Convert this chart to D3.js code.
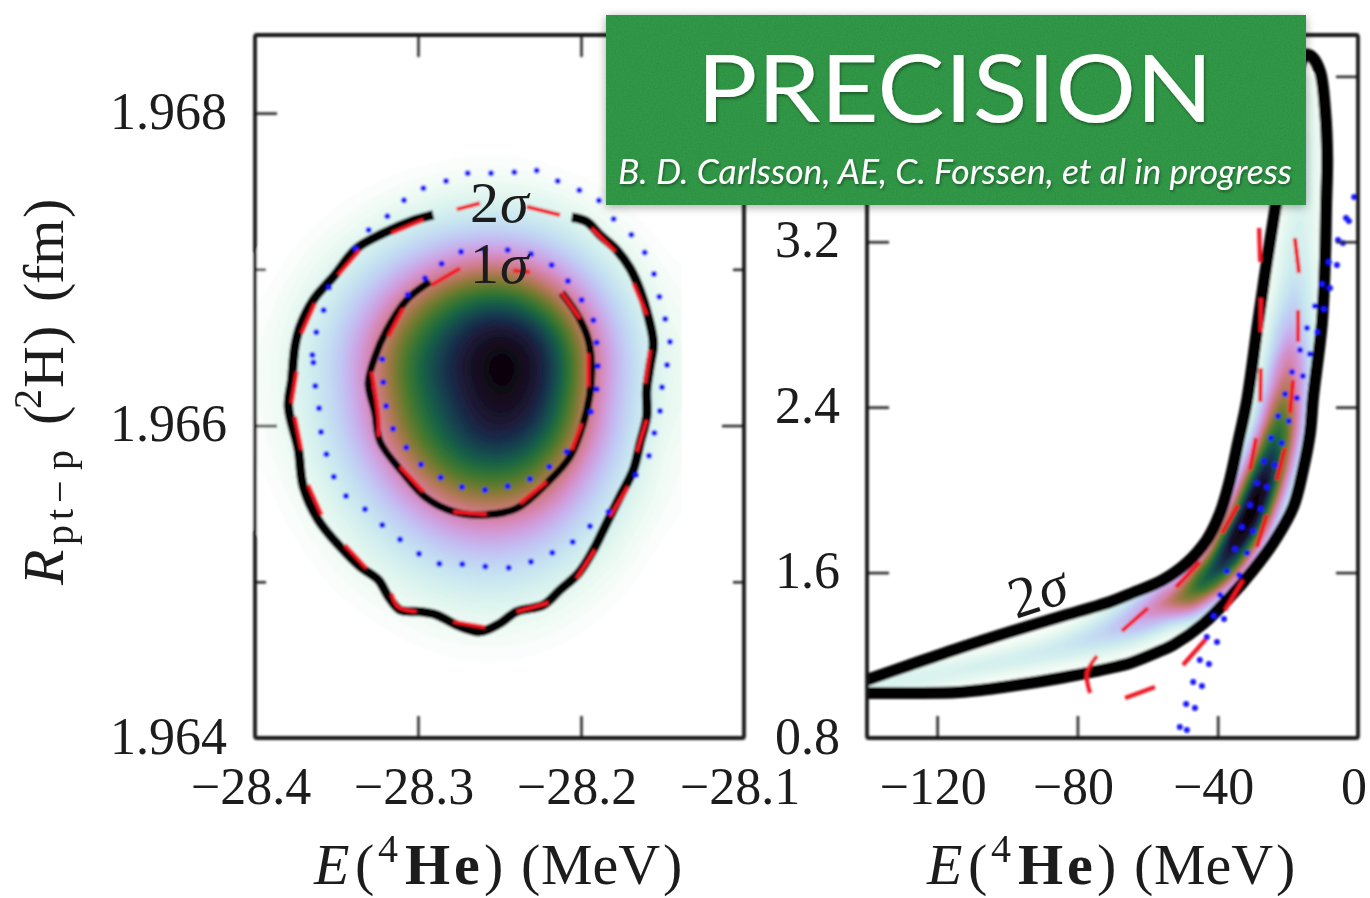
<!DOCTYPE html>
<html>
<head>
<meta charset="utf-8">
<script src="https://cdn.jsdelivr.net/npm/d3@7"></script>
<style>
  html, body { margin: 0; background: #fff; }
  svg { display: block; }
  text { font-family: "Liberation Serif", serif; fill: #1c1c1c; }
</style>
</head>
<body>
<svg id="chart" width="1370" height="898"></svg>
<script>
// ---- left panel, E (MeV) vs R (fm) ----
const leftXTicks = [-28.4, -28.3, -28.2, -28.1];
const leftYTicks = [1.964, 1.966, 1.968];
const leftYMinor = [1.965, 1.967];

// density grid, columns heatE, rows heatR (top row first)
const heatE = [-28.40, -28.38, -28.36, -28.34, -28.32, -28.30, -28.28, -28.26, -28.24, -28.22, -28.20, -28.18, -28.16, -28.14];
const heatR = [1.9678, 1.9676, 1.9674, 1.9672, 1.9670, 1.9668, 1.9666, 1.9664, 1.9662, 1.9660, 1.9658, 1.9656, 1.9654, 1.9652, 1.9650, 1.9648, 1.9646, 1.9644];
const heatD = [
  [0, 0, 0, 0, 0, 0, 0, .001, .001, 0, 0, 0, 0, 0],
  [0, 0, 0, 0, .004, .009, .017, .023, .021, .01, .005, 0, 0, 0],
  [0, 0, .002, .009, .033, .06, .08, .091, .087, .068, .037, .008, .001, 0],
  [0, .002, .012, .051, .092, .139, .186, .21, .202, .158, .095, .048, .008, 0],
  [0, .008, .049, .103, .181, .281, .397, .458, .438, .326, .194, .098, .035, .004],
  [.003, .026, .083, .168, .305, .511, .65, .75, .72, .558, .334, .159, .067, .009],
  [.006, .044, .112, .227, .441, .66, .8, .96, .97, .82, .482, .216, .091, .018],
  [.007, .053, .128, .26, .515, .74, .88, 1, 1, .92, .545, .25, .104, .025],
  [.006, .05, .12, .24, .47, .7, .82, .97, .98, .86, .5, .23, .096, .02],
  [.006, .044, .112, .227, .441, .66, .78, .93, .92, .8, .47, .216, .091, .018],
  [.004, .03, .09, .175, .338, .545, .7, .8, .78, .62, .366, .172, .072, 0],
  [.002, .015, .066, .133, .23, .4, .532, .585, .567, .46, .248, .127, .053, .006],
  [0, .007, .038, .091, .158, .233, .338, .39, .37, .274, .17, .086, .028, .003],
  [0, .002, .014, .055, .098, .148, .2, .222, .213, .168, .105, .052, .006, 0],
  [0, 0, .005, .019, .052, .083, .109, .122, .117, .092, .056, .017, .003, 0],
  [0, 0, 0, .005, .014, .037, .054, .062, .059, .044, .017, .004, 0, 0],
  [0, 0, 0, 0, .003, .008, .015, .02, .018, .01, .004, 0, 0, 0],
  [0, 0, 0, 0, 0, 0, .002, .003, .002, 0, 0, 0, 0, 0]
];

const contour2s = [[-28.2057,1.967333],[-28.1965,1.967305],[-28.1883,1.96722],[-28.1781,1.967124],[-28.1699,1.967007],[-28.1638,1.966868],[-28.1587,1.966697],[-28.1556,1.966526],[-28.1577,1.966377],[-28.1597,1.966228],[-28.1597,1.966057],[-28.1638,1.965886],[-28.1679,1.965716],[-28.1761,1.965545],[-28.1843,1.965374],[-28.1924,1.965204],[-28.2016,1.965054],[-28.2129,1.964948],[-28.2231,1.964851],[-28.2395,1.964809],[-28.2497,1.964734],[-28.262,1.964681],[-28.2763,1.964723],[-28.2886,1.964788],[-28.2988,1.964809],[-28.311,1.964819],[-28.3182,1.964905],[-28.3243,1.965011],[-28.3356,1.965097],[-28.3479,1.965225],[-28.3612,1.965396],[-28.3704,1.965609],[-28.3734,1.965844],[-28.3795,1.966121],[-28.3775,1.966292],[-28.3755,1.966505],[-28.3724,1.966633],[-28.3642,1.966804],[-28.3519,1.966953],[-28.3376,1.967135],[-28.3213,1.967231],[-28.3049,1.967305],[-28.2906,1.967348]];
const contour1s = [[-28.2119,1.966851],[-28.2016,1.966697],[-28.1955,1.966548],[-28.1935,1.966377],[-28.1945,1.966206],[-28.1986,1.966014],[-28.2067,1.965801],[-28.2211,1.96563],[-28.2395,1.96547],[-28.2599,1.965428],[-28.2783,1.965449],[-28.2947,1.965534],[-28.309,1.965694],[-28.3233,1.965897],[-28.3264,1.966078],[-28.3305,1.96627],[-28.3264,1.966441],[-28.3192,1.966612],[-28.307,1.966804],[-28.2926,1.966921]];

const leftDashes = [
  [[-28.3162,1.967231],[-28.2967,1.967316]],
  [[-28.3489,1.966964],[-28.3356,1.967124]],
  [[-28.3714,1.96659],[-28.3632,1.966782]],
  [[-28.3775,1.966142],[-28.3744,1.966345]],
  [[-28.3755,1.966057],[-28.3714,1.965844]],
  [[-28.3673,1.96562],[-28.3591,1.965428]],
  [[-28.3448,1.965236],[-28.3315,1.965086]],
  [[-28.3162,1.964926],[-28.3121,1.964841],[-28.3008,1.964809]],
  [[-28.2783,1.964745],[-28.2589,1.964709]],
  [[-28.2395,1.964809],[-28.22,1.964866]],
  [[-28.2027,1.965022],[-28.1914,1.965204]],
  [[-28.1822,1.965417],[-28.171,1.965609]],
  [[-28.1658,1.965833],[-28.1597,1.966036]],
  [[-28.1607,1.96627],[-28.1577,1.966484]],
  [[-28.1597,1.966708],[-28.1679,1.966911]],
  [[-28.1791,1.967113],[-28.1935,1.967263]],
  [[-28.2129,1.967348],[-28.2333,1.967401]],
  [[-28.262,1.967423],[-28.2763,1.967384]],
  [[-28.2916,1.9669],[-28.2742,1.967007]],
  [[-28.2415,1.966992],[-28.2313,1.966983]],
  [[-28.2119,1.966851],[-28.2006,1.966686]],
  [[-28.1955,1.966462],[-28.1955,1.966249]],
  [[-28.1996,1.966014],[-28.2057,1.965844]],
  [[-28.2211,1.965641],[-28.2374,1.965502]],
  [[-28.2579,1.965432],[-28.2783,1.965449]],
  [[-28.2967,1.965577],[-28.311,1.965737]],
  [[-28.3243,1.965929],[-28.3243,1.966057],[-28.3284,1.966345]],
  [[-28.3182,1.966569],[-28.309,1.96675]]
];

const leftDots = [[-28.2272,1.967632],[-28.2409,1.967621],[-28.2552,1.967615],[-28.2695,1.967615],[-28.2828,1.967566],[-28.2967,1.967519],[-28.3086,1.967442],[-28.3188,1.967339],[-28.3303,1.967252],[-28.3385,1.967135],[-28.3546,1.966883],[-28.3579,1.966738],[-28.3624,1.966597],[-28.3648,1.966452],[-28.3642,1.966403],[-28.363,1.966253],[-28.3607,1.96611],[-28.3595,1.965959],[-28.3562,1.965816],[-28.3517,1.965673],[-28.3442,1.965549],[-28.3325,1.965464],[-28.3219,1.965364],[-28.311,1.96527],[-28.2994,1.96518],[-28.2869,1.965116],[-28.2728,1.965112],[-28.2587,1.965097],[-28.2444,1.96509],[-28.2307,1.965129],[-28.2176,1.965186],[-28.2051,1.965255],[-28.1945,1.965355],[-28.1832,1.965449],[-28.1663,1.965684],[-28.1583,1.965807],[-28.155,1.965952],[-28.1515,1.966093],[-28.1503,1.966245],[-28.1472,1.966388],[-28.1454,1.966537],[-28.1483,1.966682],[-28.1519,1.966825],[-28.1552,1.96697],[-28.1609,1.967107],[-28.1691,1.967222],[-28.18,1.967322],[-28.189,1.96744],[-28.201,1.967506],[-28.2143,1.967566],
  [-28.2736,1.967113],[-28.2593,1.967126],[-28.245,1.967124],[-28.2307,1.967098],[-28.218,1.967028],[-28.208,1.966925],[-28.1996,1.966804],[-28.1924,1.966674],[-28.1904,1.966531],[-28.1896,1.966381],[-28.1904,1.966232],[-28.1939,1.966089],[-28.2088,1.965833],[-28.2194,1.965737],[-28.2313,1.965658],[-28.245,1.965611],[-28.2589,1.965588],[-28.273,1.965607],[-28.2861,1.965667],[-28.2982,1.96575],[-28.3072,1.965859],[-28.3153,1.96598],[-28.3196,1.966125],[-28.3213,1.966277],[-28.3219,1.966424],[-28.3063,1.966838],[-28.2957,1.966943],[-28.2855,1.967036]];

// ---- right panel ----
const rightXTicks = [-120, -80, -40, 0];
const rightYTicks = [0.8, 1.6, 2.4, 3.2, 4.0];

const band2s = [[-140,1.0805],[-127.7,1.1531],[-113.5,1.2353],[-99.2,1.3127],[-85,1.3852],[-70.7,1.4578],[-65,1.4965],[-55.6,1.5642],[-48.8,1.6464],[-43.1,1.7577],[-39.3,1.8883],[-36.5,2.0479],[-34.2,2.2269],[-31.6,2.4348],[-28.5,2.8073],[-26,3.0975],[-23.4,3.378],[-20,3.7408],[-17.1,4.031],[-15.1,4.1035],[-13.1,4.0939],[-10.8,4.0213],[-9.4,3.8375],[-8.8,3.6053],[-9.1,3.378],[-9.4,3.1265],[-10.3,2.8073],[-12.8,2.4493],[-13.7,2.2752],[-15.7,2.0963],[-18.5,1.9173],[-24.2,1.7432],[-29.9,1.6126],[-36.5,1.482],[-44.2,1.3514],[-52.8,1.2498],[-56.5,1.2208],[-65,1.1628],[-70.7,1.1386],[-85,1.0902],[-99.2,1.0515],[-113.5,1.0225],[-127.7,1.0177],[-140,1.0177]];

const rightDashes = [
  [[-28.2,3.2668],[-27.9,3.1023]],
  [[-27.7,2.9282],[-27.7,2.7637]],
  [[-27.7,2.5896],[-27.9,2.4252]],
  [[-29.1,2.251],[-30.8,2.0963]],
  [[-34.2,1.927],[-38.8,1.7915]],
  [[-45.1,1.6513],[-51.9,1.5304]],
  [[-59.9,1.4288],[-67.3,1.3175]],
  [[-74.4,1.1966],[-77.3,1.1144],[-76.4,1.0177]],
  [[-66.4,0.9935],[-57.9,1.0467]],
  [[-49.9,1.1531],[-43.1,1.2837]],
  [[-37.9,1.4191],[-32.8,1.5642]],
  [[-28.8,1.7238],[-26,1.8786]],
  [[-23.1,2.0479],[-20.8,2.2027]],
  [[-19.4,2.372],[-18.5,2.5316]],
  [[-17.1,2.7154],[-17.1,2.8701]],
  [[-16.8,3.0491],[-18,3.2184]]
];

const rightDots = [[-50.8,.8532],[-48.8,.8387],[-49,.9645],[-46.5,.9451],[-47,1.0709],[-44.5,1.0515],[-45.1,1.1773],[-42.5,1.1579],[-43.1,1.2885],[-40.2,1.2643],[-41.1,1.3901],[-38.2,1.3756],[-39.3,1.4913],[-37.4,1.6077],[-33.9,1.5884],[-35.1,1.7142],[-31.6,1.6948],[-33.1,1.8206],[-29.9,1.8012],[-30.8,1.927],[-27.7,1.9076],[-28.8,2.0334],[-26,2.014],[-26.8,2.1398],[-23.7,2.1204],[-24.8,2.251],[-21.7,2.2269],[-22.8,2.3575],[-19.7,2.3333],[-20.8,2.4639],[-17.4,2.4445],[-18.8,2.5703],[-15.7,2.5509],[-16.5,2.6767],[-13.7,2.6573],[-14.5,2.7831],[-11.7,2.7637],[-12.3,2.8895],[-9.7,2.875],[-10.3,2.9959],[-8,2.9766],[-8.3,3.1023],[-6,3.0878],[-5.7,3.2087],[-4.3,3.1942],[-3.4,3.3151],[-2.6,3.3006],[-1.1,3.4167]];

// ridge of the density inside the band: position, peak density, width in px
const ridgeE = [-139.7, -116.3, -99.2, -85, -73.6, -65, -56.5, -49.3, -45.1, -39.3, -35.1, -30.8, -27.4, -24.5, -22.2, -20.8, -19.4, -18.8, -17.7, -17.1, -16, -14.8, -13.7];
const ridgeR = [1.0467, 1.1192, 1.1773, 1.2353, 1.2982, 1.3611, 1.4385, 1.4868, 1.54, 1.6368, 1.7432, 1.8786, 2.0237, 2.1688, 2.3139, 2.459, 2.6525, 2.8218, 3.0152, 3.2087, 3.4022, 3.6924, 3.9826];
const ridgePeak = [.08, .09, .10, .12, .17, .25, .38, .55, .68, .82, .95, 1, .95, .8, .65, .5, .35, .22, .14, .10, .08, .07, .05];
const ridgeWidth = [14, 15, 16, 18, 21, 22, 22, 22, 22, 22, 22, 22, 22, 22, 22, 22, 22, 22, 22, 22, 22, 22, 18];

const svg = d3.select("#chart");
const defs = svg.append("defs");
defs.append("filter").attr("id", "soft").attr("filterUnits", "userSpaceOnUse")
  .attr("x", 0).attr("y", 0).attr("width", 1370).attr("height", 898)
  .append("feGaussianBlur").attr("stdDeviation", 0.8);
defs.append("filter").attr("id", "textsoft").attr("filterUnits", "userSpaceOnUse")
  .attr("x", 0).attr("y", 0).attr("width", 1370).attr("height", 898)
  .append("feGaussianBlur").attr("stdDeviation", 0.55);

const frameL = { left: 255, right: 744, top: 35, bottom: 738 };
const frameR = { left: 867, right: 1358, top: 35, bottom: 738 };

const xL = d3.scaleLinear().domain([-28.4, -28.1]).range([frameL.left, frameL.right]);
const yL = d3.scaleLinear().domain([1.964, 1.9685]).range([frameL.bottom, frameL.top]);
const xR = d3.scaleLinear().domain([-140, 0]).range([frameR.left, frameR.right]);
const yR = d3.scaleLinear().domain([0.8, 4.2]).range([frameR.bottom, frameR.top]);

// same ramp as the original: white at zero density, black at the peak
const density = d3.scaleSequential(d => d3.interpolateCubehelixDefault(1 - d)).domain([0, 1]);

const marks = svg.append("g").attr("filter", "url(#soft)");

// ---- left heat ----
function drawLeftHeat() {
  const k = 6;
  const cols = heatE.length, rows = heatR.length;
  const w = (cols - 1) * k + 1, h = (rows - 1) * k + 1;
  const data = new Float64Array(w * h);
  for (let j = 0; j < h; j++) {
    for (let i = 0; i < w; i++) {
      const c = Math.min(Math.floor(i / k), cols - 2), r = Math.min(Math.floor(j / k), rows - 2);
      const u = i / k - c, v = j / k - r;
      data[j * w + i] = (1 - v) * ((1 - u) * heatD[r][c] + u * heatD[r][c + 1]) + v * ((1 - u) * heatD[r + 1][c] + u * heatD[r + 1][c + 1]);
    }
  }
  d3.blur2({ data, width: w, height: h }, 3);
  const levels = d3.range(0.002, 1, 0.01);
  const stepE = heatE[1] - heatE[0], stepR = heatR[1] - heatR[0];
  const project = d3.geoTransform({
    point(x, y) {
      this.stream.point(xL(heatE[0] + (x - 0.5) / k * stepE), yL(heatR[0] + (y - 0.5) / k * stepR));
    }
  });
  marks.append("g").selectAll("path")
    .data(d3.contours().size([w, h]).thresholds(levels)(data))
    .join("path")
    .attr("d", d3.geoPath(project))
    .attr("fill", d => density(d.value));
}
drawLeftHeat();

const lineL = d3.line().x(d => xL(d[0])).y(d => yL(d[1])).curve(d3.curveCatmullRom);
const lineR = d3.line().x(d => xR(d[0])).y(d => yR(d[1])).curve(d3.curveCatmullRom);

marks.append("path").attr("d", lineL(contour2s)).attr("fill", "none").attr("stroke", "#000").attr("stroke-width", 9.5);
marks.append("path").attr("d", lineL(contour1s)).attr("fill", "none").attr("stroke", "#000").attr("stroke-width", 7.5);

marks.append("g").selectAll("path").data(leftDashes).join("path")
  .attr("d", lineL).attr("fill", "none").attr("stroke", "#f21424").attr("stroke-width", 4);
marks.append("g").selectAll("circle").data(leftDots).join("circle")
  .attr("cx", d => xL(d[0])).attr("cy", d => yL(d[1])).attr("r", 3).attr("fill", "#1414ff");

// ---- right heat: nested level polygons along the ridge, clipped to the 2 sigma band ----
const ridgePts = ridgeE.map((e, i) => {
  const a = Math.max(i - 1, 0), b = Math.min(i + 1, ridgeE.length - 1);
  const dx = xR(ridgeE[b]) - xR(ridgeE[a]), dy = yR(ridgeR[b]) - yR(ridgeR[a]);
  const len = Math.hypot(dx, dy);
  return { x: xR(e), y: yR(ridgeR[i]), nx: -dy / len, ny: dx / len, peak: ridgePeak[i], s: ridgeWidth[i] };
});

defs.append("clipPath").attr("id", "bandClip").append("path")
  .attr("d", d3.line().x(d => xR(d[0])).y(d => yR(d[1])).curve(d3.curveCatmullRomClosed)(band2s));

const closedPx = d3.line().x(d => d[0]).y(d => d[1]).curve(d3.curveCatmullRomClosed);
const heatR2 = marks.append("g").attr("clip-path", "url(#bandClip)");
d3.range(0.006, 1, 0.012).forEach(level => {
  const idx = ridgePts.map((p, i) => (p.peak > level ? i : -1)).filter(i => i >= 0);
  if (!idx.length) return;
  const first = idx[0], last = idx[idx.length - 1];
  const side1 = [], side2 = [];
  idx.forEach(i => {
    const p = ridgePts[i];
    const hw = p.s * Math.sqrt(Math.log(p.peak / level));
    side1.push([p.x + p.nx * hw, p.y + p.ny * hw]);
    side2.push([p.x - p.nx * hw, p.y - p.ny * hw]);
  });
  const tip = (a, b) => {
    const t = (level - a.peak) / (b.peak - a.peak);
    return [a.x + (b.x - a.x) * t, a.y + (b.y - a.y) * t];
  };
  const ring = [];
  if (first > 0) ring.push(tip(ridgePts[first - 1], ridgePts[first]));
  ring.push(...side1);
  if (last < ridgePts.length - 1) ring.push(tip(ridgePts[last], ridgePts[last + 1]));
  ring.push(...side2.reverse());
  heatR2.append("path").attr("d", closedPx(ring)).attr("fill", density(level));
});

marks.append("path").attr("d", lineR(band2s)).attr("fill", "none").attr("stroke", "#000").attr("stroke-width", 12);
marks.append("g").selectAll("path").data(rightDashes).join("path")
  .attr("d", lineR).attr("fill", "none").attr("stroke", "#f21424").attr("stroke-width", 4.2);
marks.append("g").selectAll("circle").data(rightDots).join("circle")
  .attr("cx", d => xR(d[0])).attr("cy", d => yR(d[1])).attr("r", 3).attr("fill", "#1414ff");

// ---- frames and ticks ----
function styleTicks(g) {
  g.select(".domain").remove();
  g.selectAll(".tick line").attr("stroke", "#2a2a2a").attr("stroke-width", 2.6);
}
function drawFrame(f) {
  marks.append("rect").attr("x", f.left).attr("y", f.top)
    .attr("width", f.right - f.left).attr("height", f.bottom - f.top).attr("rx", 2)
    .attr("fill", "none").attr("stroke", "#161616").attr("stroke-width", 3.8);
}
const noLabel = () => "";
marks.append("g").attr("transform", `translate(0,${frameL.top})`).call(d3.axisTop(xL).tickValues(leftXTicks.slice(1, 3)).tickSize(-22).tickFormat(noLabel)).call(styleTicks);
marks.append("g").attr("transform", `translate(0,${frameL.bottom})`).call(d3.axisBottom(xL).tickValues(leftXTicks.slice(1, 3)).tickSize(-22).tickFormat(noLabel)).call(styleTicks);
marks.append("g").attr("transform", `translate(${frameL.left},0)`).call(d3.axisLeft(yL).tickValues(leftYTicks.slice(1)).tickSize(-22).tickFormat(noLabel)).call(styleTicks);
marks.append("g").attr("transform", `translate(${frameL.right},0)`).call(d3.axisRight(yL).tickValues(leftYTicks.slice(1)).tickSize(-22).tickFormat(noLabel)).call(styleTicks);
marks.append("g").attr("transform", `translate(${frameL.left},0)`).call(d3.axisLeft(yL).tickValues(leftYMinor).tickSize(-11).tickFormat(noLabel)).call(styleTicks);
marks.append("g").attr("transform", `translate(${frameL.right},0)`).call(d3.axisRight(yL).tickValues(leftYMinor).tickSize(-11).tickFormat(noLabel)).call(styleTicks);
marks.append("g").attr("transform", `translate(0,${frameR.bottom})`).call(d3.axisBottom(xR).tickValues(rightXTicks.slice(0, 3)).tickSize(-22).tickFormat(noLabel)).call(styleTicks);
marks.append("g").attr("transform", `translate(${frameR.left},0)`).call(d3.axisLeft(yR).tickValues(rightYTicks.slice(1, 4)).tickSize(-22).tickFormat(noLabel)).call(styleTicks);
marks.append("g").attr("transform", `translate(${frameR.right},0)`).call(d3.axisRight(yR).tickValues(rightYTicks.slice(1)).tickSize(-22).tickFormat(noLabel)).call(styleTicks);
drawFrame(frameL);
drawFrame(frameR);

// ---- text ----
const labels = svg.append("g").attr("filter", "url(#textsoft)");
const tickSize = 52;

labels.append("g").selectAll("text").data(leftXTicks).join("text")
  .attr("x", d => xL(d) - 4).attr("y", 804).attr("text-anchor", "middle").attr("font-size", tickSize)
  .text(d3.format(".1f"));
labels.append("g").selectAll("text").data(rightXTicks).join("text")
  .attr("x", d => xR(d) - 4).attr("y", 804).attr("text-anchor", "middle").attr("font-size", tickSize)
  .text(d3.format("d"));
labels.append("g").selectAll("text").data(leftYTicks).join("text")
  .attr("x", 227).attr("y", d => yL(d) + 15.5).attr("text-anchor", "end").attr("font-size", tickSize)
  .text(d3.format(".3f"));
labels.append("g").selectAll("text").data(rightYTicks.slice(0, 4)).join("text")
  .attr("x", 840).attr("y", d => yR(d) + 15.5).attr("text-anchor", "end").attr("font-size", tickSize)
  .text(d3.format(".1f"));

// placed piece by piece, the math font of the original is wider than anything installed
const eLabel = [
  { t: "E", x: 0, style: "italic" }, { t: "(", x: 41 },
  { t: "4", x: 64, size: 40, dy: -22 }, { t: "H", x: 91, weight: "bold" },
  { t: "e", x: 140, weight: "bold" }, { t: ")", x: 170 },
  { t: "(", x: 207 }, { t: "MeV", x: 227 }, { t: ")", x: 349 }
];
function placeLabel(root, pieces, size) {
  root.selectAll("text").data(pieces).join("text")
    .attr("x", d => d.x).attr("y", d => d.dy || 0)
    .attr("font-size", d => d.size || size)
    .attr("font-style", d => d.style || null)
    .attr("font-weight", d => d.weight || null)
    .text(d => d.t);
}
placeLabel(labels.append("g").attr("transform", "translate(314,884)"), eLabel, 58);
placeLabel(labels.append("g").attr("transform", "translate(927,884)"), eLabel, 58);

const rLabel = [
  { t: "R", x: 0, style: "italic" }, { t: "p", x: 40, size: 40, dy: 10 }, { t: "t", x: 65, size: 40, dy: 10 },
  { t: "−", x: 82, size: 40, dy: 10 }, { t: "p", x: 115, size: 40, dy: 10 },
  { t: "(", x: 160 }, { t: "2", x: 176, size: 40, dy: -22 }, { t: "H", x: 197 }, { t: ")", x: 240 },
  { t: "(", x: 283 }, { t: "fm", x: 301 }, { t: ")", x: 367 }
];
placeLabel(labels.append("g").attr("transform", "translate(63,585) rotate(-90)"), rLabel, 58);

function sigma(root, x, y, num, rot) {
  const t = root.append("text").attr("transform", `translate(${x},${y}) rotate(${rot})`).attr("font-size", 58);
  t.append("tspan").text(num);
  t.append("tspan").attr("font-style", "italic").attr("dx", 1).text("σ");
}
sigma(labels, 470, 222, "2", 0);
sigma(labels, 470, 283, "1", 0);
sigma(labels, 1016, 619, "2", -18);

// ---- green banner ----
const shadow = defs.append("filter").attr("id", "shadow").attr("x", "-5%").attr("y", "-10%").attr("width", "110%").attr("height", "125%");
shadow.append("feDropShadow").attr("dx", 0).attr("dy", 2).attr("stdDeviation", 5).attr("flood-color", "#000").attr("flood-opacity", 0.35);
const grain = defs.append("filter").attr("id", "grain").attr("x", 0).attr("y", 0).attr("width", 1).attr("height", 1);
grain.append("feTurbulence").attr("type", "fractalNoise").attr("baseFrequency", 0.6).attr("numOctaves", 2).attr("seed", 4);
grain.append("feColorMatrix").attr("values", "0 0 0 0 0  0 0 0 0 0.1  0 0 0 0 0  0 0 0 0.3 -0.1");
const textShadow = defs.append("filter").attr("id", "textshadow").attr("x", "-5%").attr("y", "-20%").attr("width", "110%").attr("height", "140%");
textShadow.append("feDropShadow").attr("dx", 1).attr("dy", 2).attr("stdDeviation", 1.5).attr("flood-color", "#000").attr("flood-opacity", 0.4);

const banner = svg.append("g");
const bx = 606, by = 15, bw = 700, bh = 190;
banner.append("rect").attr("x", bx).attr("y", by).attr("width", bw).attr("height", bh).attr("fill", "#31984a").attr("filter", "url(#shadow)");
banner.append("rect").attr("x", bx).attr("y", by).attr("width", bw).attr("height", bh).attr("filter", "url(#grain)");
banner.append("text").text("PRECISION")
  .attr("x", 697).attr("y", 122).attr("font-size", 94).attr("textLength", 516).attr("lengthAdjust", "spacingAndGlyphs")
  .style("font-family", "Lato").style("fill", "#fff").attr("filter", "url(#textshadow)");
banner.append("text").text("B. D. Carlsson, AE, C. Forssen, et al in progress")
  .attr("x", 618).attr("y", 184).attr("font-size", 34).attr("font-style", "italic").attr("textLength", 674).attr("lengthAdjust", "spacingAndGlyphs")
  .style("font-family", "Lato").style("fill", "#fff").attr("filter", "url(#textshadow)");
</script>
</body>
</html>
